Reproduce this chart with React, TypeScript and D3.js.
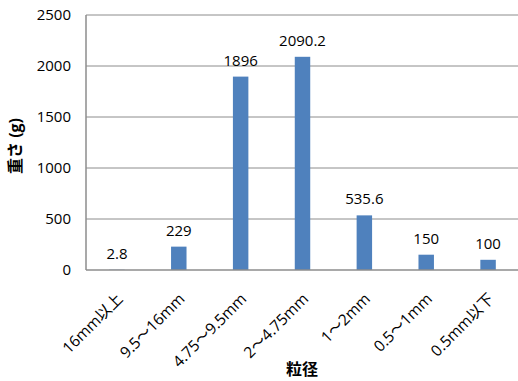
import React from "react";
import * as d3 from "d3";

const categories = ["16mm以上", "9.5～16mm", "4.75～9.5mm", "2～4.75mm", "1～2mm", "0.5～1mm", "0.5mm以下"];
const values = [2.8, 229, 1896, 2090.2, 535.6, 150, 100];
const valueLabels = ["2.8", "229", "1896", "2090.2", "535.6", "150", "100"];
const yTicks = [0, 500, 1000, 1500, 2000, 2500];
const xTitle = "粒径";
const yTitle = "重さ (g)";

const W = 518;
const H = 381;
const margin = { left: 86, right: -1, top: 15, bottom: 111 };
const FONT = "'Open Sans', 'Noto Sans CJK JP', sans-serif";

export default function App() {
  const x = d3
    .scaleBand<string>()
    .domain(categories)
    .range([margin.left, W - margin.right])
    .paddingInner(0.75)
    .paddingOuter(0.375);
  const y = d3.scaleLinear().domain([0, 2500]).range([H - margin.bottom, margin.top]);
  const x0 = margin.left;
  const x1 = W - margin.right;
  return (
    <svg width={W} height={H} style={{ position: "absolute", left: 0, top: 0, background: "#fff" }} fontFamily={FONT}>
      {yTicks.map((t) => (
        <g key={t}>
          {t > 0 && <line x1={x0} x2={x1} y1={y(t)} y2={y(t)} stroke="#8c8c8c" strokeWidth={1} />}
          <text x={x0 - 15} y={y(t)} dy="0.35em" textAnchor="end" fontSize={15} fill="#000">
            {t}
          </text>
        </g>
      ))}
      {categories.map((c, i) => (
        <g key={c}>
          <rect x={x(c)} y={y(values[i])} width={x.bandwidth()} height={y(0) - y(values[i])} fill="#4F81BD" />
          <text x={(x(c) as number) + x.bandwidth() / 2} y={y(values[i]) - 11} textAnchor="middle" fontSize={15} fill="#000">
            {valueLabels[i]}
          </text>
          <text
            transform={`translate(${(x(c) as number) + x.bandwidth() / 2 + 3},${y(0) + 26}) rotate(-45)`}
            textAnchor="end"
            fontSize={15.5}
            dy="0.35em"
            fill="#000"
          >
            {c}
          </text>
        </g>
      ))}
      <line x1={x0} x2={x0} y1={margin.top} y2={y(0)} stroke="#8c8c8c" strokeWidth={1.5} />
      <line x1={x0} x2={x1} y1={y(0)} y2={y(0)} stroke="#8c8c8c" strokeWidth={1.5} />
      <text x={302} y={375} textAnchor="middle" fontSize={16} fontWeight="bold" fill="#000">
        {xTitle}
      </text>
      <text transform={`translate(21,${146}) rotate(-90)`} textAnchor="middle" fontSize={16} fontWeight="bold" fill="#000">
        {yTitle}
      </text>
    </svg>
  );
}
